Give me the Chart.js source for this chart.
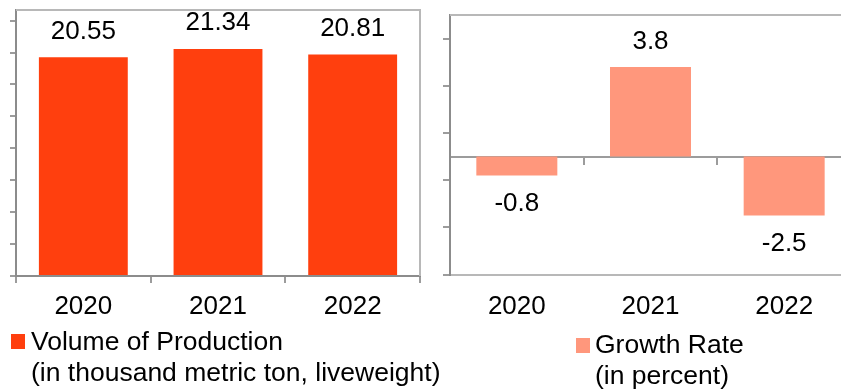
<!DOCTYPE html>
<html>
<head>
<meta charset="utf-8">
<script src="https://cdn.jsdelivr.net/npm/chart.js@4/dist/chart.umd.min.js"></script>
<style>
  html, body { margin: 0; padding: 0; width: 841px; height: 389px; overflow: hidden; background: #fff; }
  #wrap { position: relative; width: 841px; height: 389px; overflow: hidden;
          font-family: "Liberation Sans", Arial, sans-serif; }
  #volumeChart { position: absolute; left: 0; top: 0; }
  #growthChart { position: absolute; left: 430px; top: 0; }
  .key { position: absolute; font-size: 26.5px; line-height: 31px; color: #000; white-space: nowrap; }
  .swatch { position: absolute; width: 14px; height: 15px; }
</style>
</head>
<body>
<div id="wrap">
  <canvas id="volumeChart" width="430" height="389"></canvas>
  <canvas id="growthChart" width="431" height="389"></canvas>
  <div class="swatch" id="volumeSwatch" style="left:11px;top:334px;"></div>
  <div class="key" id="volumeKey" style="left:31px;top:326px;"></div>
  <div class="swatch" id="growthSwatch" style="left:576px;top:338px;"></div>
  <div class="key" id="growthKey" style="left:595px;top:329px;"></div>
</div>
<script>
// Years shown on both panels
const years = ['2020', '2021', '2022'];

// Volume of production, thousand metric tons (liveweight)
const volume = [20.55, 21.34, 20.81];

// Year-on-year growth rate, percent
const growth = [-0.8, 3.8, -2.5];

// Unlabelled tick marks on each value axis
const volumeTicks = [0, 3, 6, 9, 12, 15, 18, 21, 24];
const growthTicks = [-5, -3, -1, 1, 3, 5];

// Legend captions
const volumeCaption = ['Volume of Production', '(in thousand metric ton, liveweight)'];
const growthCaption = ['Growth Rate', '(in percent)'];

const VOLUME_COLOR = '#FF3F0E';
const GROWTH_COLOR = '#FF977C';
const FONT_FAMILY = "'Liberation Sans', Arial, sans-serif";
const AXIS_DARK = '#8c8c8c';
const AXIS_LIGHT = '#b8b8b8';
const TICK_COLOR = '#9c9c9c';

// HTML legends
function fillKey(id, lines) {
  const el = document.getElementById(id);
  lines.forEach((t, i) => {
    if (i) el.appendChild(document.createElement('br'));
    el.appendChild(document.createTextNode(t));
  });
}
fillKey('volumeKey', volumeCaption);
fillKey('growthKey', growthCaption);
document.getElementById('volumeSwatch').style.background = VOLUME_COLOR;
document.getElementById('growthSwatch').style.background = GROWTH_COLOR;

// Value text above positive bars and below negative ones
const valueLabels = {
  id: 'valueLabels',
  afterDatasetsDraw(chart, args, opts) {
    const ctx = chart.ctx;
    const meta = chart.getDatasetMeta(0);
    const data = chart.data.datasets[0].data;
    ctx.save();
    ctx.font = `26px ${FONT_FAMILY}`;
    ctx.fillStyle = '#000';
    ctx.textAlign = 'center';
    ctx.textBaseline = 'middle';
    meta.data.forEach((bar, i) => {
      const v = data[i];
      const y = v >= 0 ? bar.y - opts.above : bar.y + opts.below;
      ctx.fillText(v.toFixed(opts.decimals), bar.x, y);
    });
    ctx.restore();
  }
};

// Light frame lines around the plot area
const frameLines = {
  id: 'frameLines',
  beforeDatasetsDraw(chart, args, opts) {
    const { ctx, chartArea: a } = chart;
    ctx.save();
    ctx.strokeStyle = opts.color;
    ctx.lineWidth = opts.width;
    ctx.beginPath();
    (opts.sides || []).forEach(s => {
      if (s === 'top') { ctx.moveTo(a.left, a.top); ctx.lineTo(a.right + 1, a.top); }
      if (s === 'right') { ctx.moveTo(a.right, a.top); ctx.lineTo(a.right, a.bottom); }
    });
    ctx.stroke();
    ctx.restore();
  }
};

const labelFont = { family: FONT_FAMILY, size: 26 };

new Chart(document.getElementById('volumeChart'), {
  type: 'bar',
  data: {
    labels: years,
    datasets: [{ data: volume, backgroundColor: VOLUME_COLOR, barPercentage: 0.66, categoryPercentage: 1 }]
  },
  options: {
    responsive: false,
    animation: false,
    events: [],
    layout: { padding: { top: 10, right: 10, left: 0, bottom: 0 } },
    plugins: {
      legend: { display: false },
      tooltip: { enabled: false },
      valueLabels: { above: 26, below: 28, decimals: 2 },
      frameLines: { color: AXIS_LIGHT, width: 2, sides: ['top', 'right'] }
    },
    scales: {
      x: {
        offset: true,
        grid: { offset: true, drawOnChartArea: false, drawTicks: true, tickLength: 7, color: TICK_COLOR, lineWidth: 2 },
        border: { display: true, color: AXIS_DARK, width: 2 },
        ticks: { font: labelFont, color: '#000', padding: 8, maxRotation: 0, autoSkip: false },
        afterFit(s) { s.height = 113; }
      },
      y: {
        min: 0,
        max: 25,
        afterBuildTicks(s) { s.ticks = volumeTicks.map(v => ({ value: v })); },
        grid: { drawOnChartArea: false, drawTicks: true, tickLength: 6, color: TICK_COLOR, lineWidth: 2 },
        border: { display: true, color: AXIS_DARK, width: 2 },
        ticks: { display: false },
        afterFit(s) { s.width = 16; }
      }
    }
  },
  plugins: [frameLines, valueLabels]
});

new Chart(document.getElementById('growthChart'), {
  type: 'bar',
  data: {
    labels: years,
    datasets: [{ data: growth, backgroundColor: GROWTH_COLOR, barPercentage: 0.606, categoryPercentage: 1 }]
  },
  options: {
    responsive: false,
    animation: false,
    events: [],
    layout: { padding: { top: 15, right: 10, left: 0, bottom: 0 } },
    plugins: {
      legend: { display: false },
      tooltip: { enabled: false },
      valueLabels: { above: 25, below: 28, decimals: 1 },
      frameLines: { color: AXIS_LIGHT, width: 2, sides: ['top'] }
    },
    scales: {
      x: {
        position: 'bottom',
        offset: true,
        grid: { display: false, drawTicks: false },
        border: { display: true, color: AXIS_LIGHT, width: 2 },
        ticks: { font: labelFont, color: '#000', padding: 17, maxRotation: 0, autoSkip: false },
        afterFit(s) { s.height = 114.5; }
      },
      x0: {
        type: 'category',
        position: { y: 0 },
        offset: true,
        grid: { offset: true, drawOnChartArea: false, drawTicks: true, tickLength: 7, color: TICK_COLOR, lineWidth: 2 },
        border: { display: true, color: TICK_COLOR, width: 2 },
        ticks: { display: false }
      },
      y: {
        min: -5,
        max: 6,
        afterBuildTicks(s) { s.ticks = growthTicks.map(v => ({ value: v })); },
        grid: { drawOnChartArea: false, drawTicks: true, tickLength: 7, color: TICK_COLOR, lineWidth: 2 },
        border: { display: true, color: AXIS_DARK, width: 2 },
        ticks: { display: false },
        afterFit(s) { s.width = 20; }
      }
    }
  },
  plugins: [frameLines, valueLabels]
});
</script>
</body>
</html>
